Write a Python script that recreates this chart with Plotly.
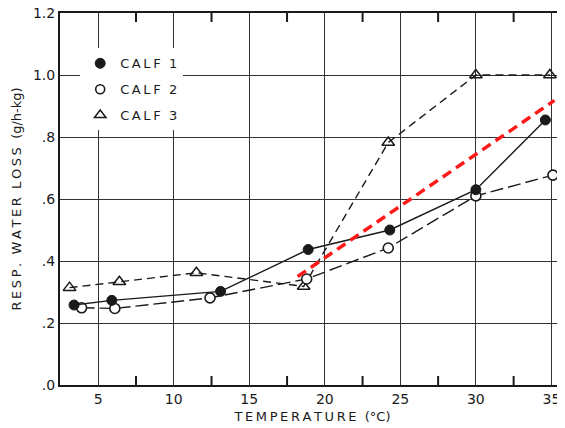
import plotly.graph_objects as go

# Data
calf1_t = [3.4, 5.9, 13.1, 18.9, 24.3, 30.0, 34.6]
calf1_v = [0.258, 0.273, 0.302, 0.437, 0.50, 0.630, 0.855]

calf2_t = [3.9, 6.1, 12.4, 18.8, 24.2, 30.0, 35.1]
calf2_v = [0.249, 0.247, 0.281, 0.342, 0.442, 0.610, 0.677]

calf3_t = [3.1, 6.4, 11.5, 18.6, 24.2, 30.0, 34.9]
calf3_v = [0.314, 0.333, 0.362, 0.318, 0.782, 1.000, 1.000]

trend_t = [18.2, 35.2]
trend_v = [0.350, 0.918]

x_ticks = [5, 10, 15, 20, 25, 30, 35]
x_minor = [7.5, 12.5, 17.5, 22.5, 27.5, 32.5]
y_ticks = [0.0, 0.2, 0.4, 0.6, 0.8, 1.0, 1.2]
y_labels = [".0", ".2", ".4", ".6", ".8", "1.0", "1.2"]
x_range = [2.47, 35.9]

TS = "\u2009"
def spaced(s):
    return TS.join(list(s))

FONT = "DejaVu Sans"
INK = "#1a1a1a"

fig = go.Figure()

fig.add_trace(go.Scatter(
    x=calf3_t, y=calf3_v, mode="lines+markers", showlegend=False,
    line=dict(color=INK, width=1.4, dash="8px,5px"),
    marker=dict(symbol="triangle-up-open", size=11, color=INK, line=dict(width=1.5, color=INK)),
))
fig.add_trace(go.Scatter(
    x=calf2_t, y=calf2_v, mode="lines+markers", showlegend=False,
    line=dict(color=INK, width=1.4, dash="13px,5px"),
    marker=dict(symbol="circle", size=10, color="white", line=dict(width=1.6, color=INK)),
))
fig.add_trace(go.Scatter(
    x=calf1_t, y=calf1_v, mode="lines+markers", showlegend=False,
    line=dict(color=INK, width=1.4),
    marker=dict(symbol="circle", size=10, color=INK, line=dict(width=1, color=INK)),
))
fig.add_trace(go.Scatter(
    x=trend_t, y=trend_v, mode="lines", showlegend=False,
    line=dict(color="#ff1a1a", width=3.5, dash="10px,6px"),
))

fig.add_trace(go.Scatter(
    x=[None], y=[None], mode="markers", name=spaced("CALF") + "  1", legendgroup="a",
    marker=dict(symbol="circle", size=10, color=INK, line=dict(width=1, color=INK)),
))
fig.add_trace(go.Scatter(
    x=[None], y=[None], mode="markers", name=spaced("CALF") + "  2", legendgroup="b",
    marker=dict(symbol="circle", size=9, color="white", line=dict(width=1.6, color=INK)),
))
fig.add_trace(go.Scatter(
    x=[None], y=[None], mode="markers", name=spaced("CALF") + "  3", legendgroup="c",
    marker=dict(symbol="triangle-up-open", size=10, color=INK, line=dict(width=1.5, color=INK)),
))

# half-step tick marks on bottom and top frame edges (from the x_minor tick list)
TICK_FRAC = 9 / 372
for v in x_minor:
    fig.add_shape(type="line", xref="x", yref="y domain", x0=v, x1=v, y0=0, y1=TICK_FRAC,
                  line=dict(color=INK, width=2))
    fig.add_shape(type="line", xref="x", yref="y domain", x0=v, x1=v, y0=1 - TICK_FRAC, y1=1,
                  line=dict(color=INK, width=2))

fig.update_layout(
    width=557, height=420,
    margin=dict(l=52, r=0, t=5, b=43),
    paper_bgcolor="white", plot_bgcolor="white",
    font=dict(family=FONT, color=INK, size=13),
    legend=dict(
        x=0.04, y=0.905, xanchor="left", yanchor="top",
        bgcolor="white", borderwidth=0,
        font=dict(family=FONT, size=13, color=INK),
        tracegroupgap=6, itemwidth=30,
    ),
    xaxis=dict(
        range=x_range, tickvals=x_ticks, ticks="",
        showgrid=True, gridcolor="#333", gridwidth=1.3,
        showline=True, linecolor=INK, linewidth=2, mirror=True,
        zeroline=False, automargin=False,
        tickfont=dict(size=14),
        title=dict(text=spaced("TEMPERATURE") + "  (°C)", font=dict(size=13), standoff=6),
    ),
    yaxis=dict(
        range=[0, 1.2], tickvals=y_ticks, ticktext=y_labels, ticks="",
        showgrid=True, gridcolor="#333", gridwidth=1.3,
        showline=True, linecolor=INK, linewidth=2,
        zeroline=False, automargin=False, ticklabeloverflow="allow",
        tickfont=dict(size=14),
        title=dict(text=spaced("RESP.") + "  " + spaced("WATER") + "  " + spaced("LOSS") + "  (g/h-kg)",
                   font=dict(size=13), standoff=8),
    ),
)

fig.write_html("out.html")
